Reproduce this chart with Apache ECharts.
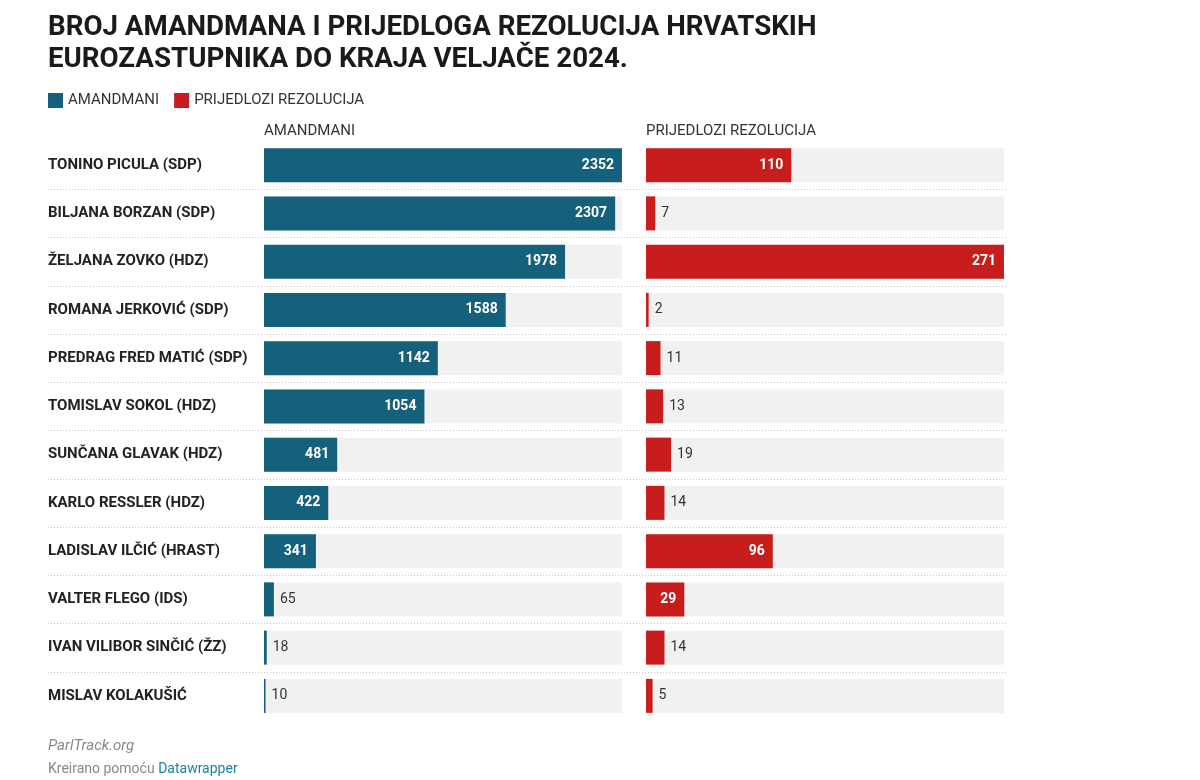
<!DOCTYPE html>
<html><head><meta charset="utf-8">
<script src="https://cdn.jsdelivr.net/npm/echarts@6/dist/echarts.min.js"></script>
<style>html,body{margin:0;padding:0;background:#fff}#c{width:1200px;height:780px}</style>
</head><body><div id="c"></div>
<script>
const names = ["TONINO PICULA (SDP)","BILJANA BORZAN (SDP)","ŽELJANA ZOVKO (HDZ)","ROMANA JERKOVIĆ (SDP)","PREDRAG FRED MATIĆ (SDP)","TOMISLAV SOKOL (HDZ)","SUNČANA GLAVAK (HDZ)","KARLO RESSLER (HDZ)","LADISLAV ILČIĆ (HRAST)","VALTER FLEGO (IDS)","IVAN VILIBOR SINČIĆ (ŽZ)","MISLAV KOLAKUŠIĆ"];
const amandmani = [2352,2307,1978,1588,1142,1054,481,422,341,65,18,10];
const rezolucije = [110,7,271,2,11,13,19,14,96,29,14,5];
const seriesNames = ["AMANDMANI","PRIJEDLOZI REZOLUCIJA"];
const colors = ["#15607a","#c71e1d"];

const FONT = "Roboto, 'Noto Sans', sans-serif";
const inside = {show:true, position:'insideRight', distance:8, color:'#fff', fontWeight:'bold', fontSize:14, fontFamily:FONT};
const outside = {show:true, position:'right', distance:6, color:'#333', fontWeight:'normal', fontSize:14, fontFamily:FONT};
function makeData(vals){
  const max = Math.max(...vals);
  return vals.map(v => ({value:v, label: (v/max > 0.09) ? inside : outside}));
}
const TOP = 141, H = 579, W = 358;
const chart = echarts.init(document.getElementById('c'));
chart.setOption({
  animation:false,
  textStyle:{fontFamily:FONT},
  title:{
    text:"BROJ AMANDMANA I PRIJEDLOGA REZOLUCIJA HRVATSKIH\nEUROZASTUPNIKA DO KRAJA VELJAČE 2024.",
    left:43, top:7,
    textStyle:{fontSize:27.7, fontWeight:'bold', color:'#1a1a1a', lineHeight:32, fontFamily:FONT}
  },
  legend:{
    left:43, top:88, itemWidth:15, itemHeight:15, itemGap:15, icon:'rect',
    textStyle:{fontSize:15, color:'#333', fontFamily:FONT},
    data:seriesNames
  },
  graphic:[
    {type:'text', left:264, top:124, style:{text:"AMANDMANI", fontSize:15, fill:'#333', fontFamily:FONT}},
    {type:'text', left:646, top:124, style:{text:"PRIJEDLOZI REZOLUCIJA", fontSize:15, fill:'#333', fontFamily:FONT}},
    {type:'text', left:48, top:739, style:{text:"ParlTrack.org", fontSize:15, fontStyle:'italic', fill:'#888', fontFamily:FONT}},
    {type:'text', left:48, top:762, style:{rich:{a:{fontSize:14, fill:'#888', fontFamily:FONT}, b:{fontSize:14, fill:'#1d81a2', fontFamily:FONT}}, text:"{a|Kreirano pomoću }{b|Datawrapper}"}}
  ],
  grid:[
    {left:264, top:TOP, width:W, height:H},
    {left:646, top:TOP, width:W, height:H},
    {left:48, top:TOP, width:959, height:H}
  ],
  xAxis:[
    {gridIndex:0, type:'value', min:0, max:Math.max(...amandmani), show:false},
    {gridIndex:1, type:'value', min:0, max:Math.max(...rezolucije), show:false},
    {gridIndex:2, type:'value', min:0, max:1, show:false}
  ],
  yAxis:[
    {gridIndex:0, type:'category', data:names, inverse:true,
     axisLine:{show:false}, axisTick:{show:false}, splitLine:{show:false},
     axisLabel:{align:'left', margin:216, fontSize:15, fontWeight:'bold', color:'#222', fontFamily:FONT}},
    {gridIndex:1, type:'category', data:names, inverse:true, show:false},
    {gridIndex:2, type:'category', data:names, inverse:true,
     axisLine:{show:false}, axisTick:{show:false}, axisLabel:{show:false},
     splitLine:{show:true, showMinLine:false, showMaxLine:false, interval:0, lineStyle:{type:[1,2], color:'#c8c8c8', width:1}}}
  ],
  series:[
    {name:seriesNames[0], type:'bar', xAxisIndex:0, yAxisIndex:0, data:makeData(amandmani), barWidth:34,
     itemStyle:{color:colors[0]}, showBackground:true, backgroundStyle:{color:'#f1f1f1'}},
    {name:seriesNames[1], type:'bar', xAxisIndex:1, yAxisIndex:1, data:makeData(rezolucije), barWidth:34,
     itemStyle:{color:colors[1]}, showBackground:true, backgroundStyle:{color:'#f1f1f1'}}
  ]
});
</script></body></html>
